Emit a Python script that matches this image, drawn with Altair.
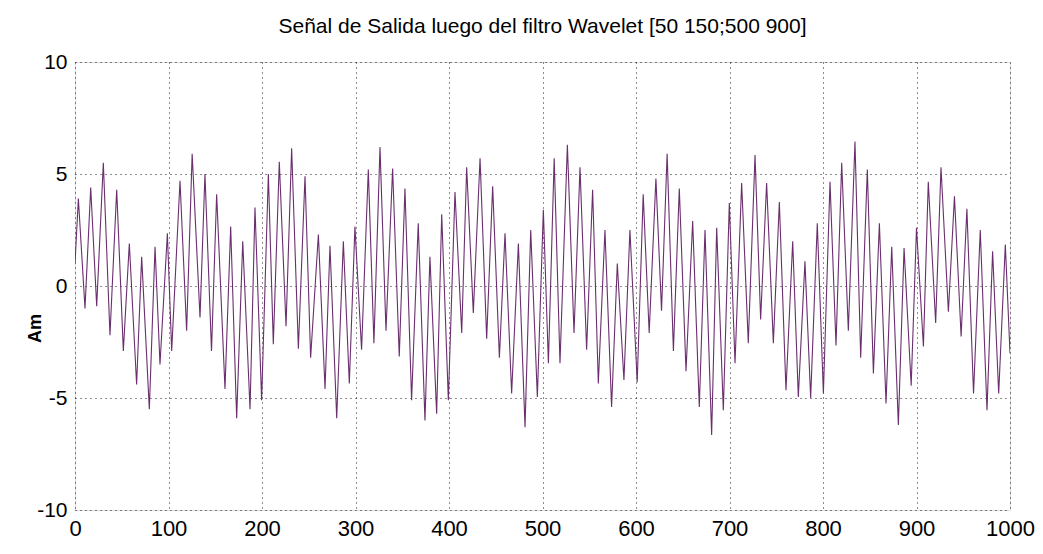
import altair as alt
import pandas as pd

# sample positions of the local extrema (peaks / troughs)
T = [0, 3.6, 10.7, 16.8, 23.2, 30.3, 37.4, 44.6, 51.7, 58.1, 65.9, 71.3, 79.5, 85.6, 90.9,
     98.8, 103.4, 112.3, 119.4, 125.3, 133.7, 139.0, 146.0, 151.5, 160.4, 166.5, 172.9,
     179.4, 187.2, 192.5, 199.6, 206.8, 212.1, 218.5, 225.7, 231.7, 238.9, 246.0, 252.0,
     260.3, 267.4, 272.7, 279.9, 287.0, 293.4, 299.4, 306.5, 313.7, 319.7, 326.2, 332.6,
     339.7, 346.8, 352.9, 360.0, 367.1, 374.3, 379.6, 386.8, 392.2, 399.3, 406.4, 413.6,
     418.9, 426.0, 433.2, 440.3, 446.7, 453.9, 459.9, 467.0, 474.2, 481.3, 487.4, 494.5,
     500.9, 506.3, 512.5, 518.7, 526.6, 533.7, 540.1, 547.2, 553.6, 559.7, 566.8, 573.9,
     580.0, 587.1, 593.5, 601.3, 607.7, 614.1, 621.3, 627.3, 633.3, 640.0, 646.3, 653.5,
     660.6, 667.7, 673.8, 680.9, 686.3, 693.4, 699.8, 705.9, 713.0, 720.1, 727.3, 733.3,
     739.7, 746.9, 753.3, 760.4, 767.6, 773.6, 780.7, 786.8, 793.9, 800.4, 807.5, 813.9,
     820.0, 827.1, 834.2, 840.3, 847.4, 853.9, 860.3, 867.4, 873.5, 880.6, 886.7, 894.3,
     900.0, 907.4, 912.6, 920.5, 926.2, 934.1, 940.6, 947.7, 953.9, 961.0, 968.2, 975.4,
     981.4, 987.9, 995.0, 1000]
# signal amplitude at those positions
V = [1.0, 3.9, -1.0, 4.4, -0.9, 5.5, -2.2, 4.3, -2.9, 1.9, -4.4, 1.3, -5.5, 1.75, -3.5,
     2.35, -2.9, 4.7, -2.0, 5.9, -1.4, 5.0, -2.9, 4.1, -4.6, 2.65, -5.9,
     2.0, -5.5, 3.5, -5.1, 5.0, -2.6, 5.55, -1.8, 6.15, -2.8, 4.9, -3.2,
     2.3, -4.6, 1.8, -5.9, 2.0, -4.35, 2.65, -2.85, 5.2, -2.55, 6.2, -2.0,
     5.25, -3.15, 4.35, -5.1, 2.8, -6.0, 1.3, -5.7, 3.2, -5.1, 4.2, -2.1,
     5.3, -1.2, 5.7, -2.35, 4.45, -3.2, 2.35, -4.8, 1.9, -6.3, 2.5, -4.95,
     3.4, -3.45, 5.7, -3.45, 6.3, -2.1, 5.3, -2.85, 4.3, -4.35, 2.5, -5.4,
     1.0, -4.2, 2.5, -4.3, 4.1, -2.1, 4.8, -1.1, 5.9, -2.9, 4.35, -3.8,
     2.9, -5.4, 2.5, -6.65, 2.6, -5.55, 3.7, -3.45, 4.6, -2.55, 5.85, -1.5,
     4.6, -2.55, 3.75, -4.65, 2.0, -4.95, 1.1, -5.0, 2.8, -4.8, 4.65, -2.65,
     5.5, -2.0, 6.45, -3.2, 5.2, -3.9, 2.8, -5.25, 1.75, -6.2, 1.7, -4.45,
     2.6, -2.7, 4.65, -1.65, 5.3, -1.15, 4.0, -2.25, 3.45, -4.8, 2.5, -5.55,
     1.55, -4.8, 1.85, -3.0]

X_TICKS = [0, 100, 200, 300, 400, 500, 600, 700, 800, 900, 1000]
Y_TICKS = [-10, -5, 0, 5, 10]
TITLE = "Señal de Salida luego del filtro Wavelet [50 150;500 900]"
Y_TITLE = "Am"

FONT = "'Liberation Sans Narrow', 'Liberation Sans', Arial, sans-serif"

df = pd.DataFrame({"t": T, "v": V})

chart = alt.Chart(df).mark_line(color="#6a2f6e", strokeWidth=1.1, clip=True).encode(
    x=alt.X("t:Q", scale=alt.Scale(domain=[0, 1000], nice=False),
            axis=alt.Axis(values=X_TICKS, title=None, grid=True, ticks=False,
                          labelExpr="'' + datum.value",
                          labelFontSize=22, labelFont=FONT, labelColor="black",
                          labelPadding=8, domain=False, labelFlush=False,
                          gridColor="black", gridDash=[1, 4], gridOpacity=0.9)),
    y=alt.Y("v:Q", scale=alt.Scale(domain=[-10, 10], nice=False),
            axis=alt.Axis(values=Y_TICKS, title=Y_TITLE, grid=True, ticks=False,
                          labelExpr="'' + datum.value",
                          labelFontSize=21, labelFont=FONT, labelColor="black",
                          labelPadding=8, domain=False, labelFlush=False,
                          titleFont=FONT, titleFontSize=18, titleFontWeight="bold",
                          titleColor="black", titleAngle=270, titleX=-40, titleY=266,
                          titleAlign="center", titleBaseline="middle",
                          gridColor="black", gridDash=[1, 4], gridOpacity=0.9)),
).properties(
    width=935, height=448,
    title=alt.TitleParams(TITLE, font=FONT, fontSize=21, fontWeight="normal",
                          color="black", anchor="middle", offset=14),
    autosize=alt.AutoSizeParams(type="none"),
    padding={"left": 75, "top": 62, "right": 33, "bottom": 44},
).configure_view(stroke="black", strokeWidth=1.5).configure(background="white")

chart.save("out.html", embed_options={"renderer": "svg", "actions": False})
